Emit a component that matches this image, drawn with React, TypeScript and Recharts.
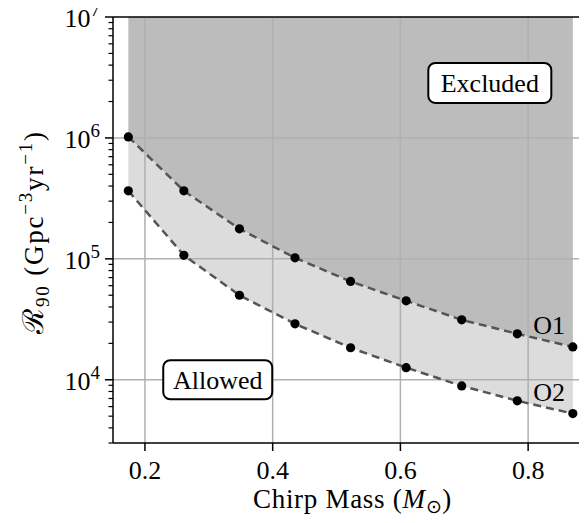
import React from "react";
import {
  ComposedChart,
  Area,
  Line,
  XAxis,
  YAxis,
  ReferenceLine,
  ReferenceDot,
} from "recharts";

const chirpMass = [0.174, 0.261, 0.348, 0.435, 0.522, 0.609, 0.696, 0.783, 0.87];
const o1Rate = [1.02e6, 3.65e5, 1.77e5, 1.02e5, 6.5e4, 4.5e4, 3.13e4, 2.4e4, 1.87e4];
const o2Rate = [3.65e5, 1.07e5, 5.0e4, 2.9e4, 1.84e4, 1.26e4, 8.9e3, 6.7e3, 5.25e3];
const rateTop = 1e7;

const xTicks = [0.2, 0.4, 0.6, 0.8];
const yMajorTicks = [1e4, 1e5, 1e6, 1e7];
const yTicks = [
  3e3, 4e3, 5e3, 6e3, 7e3, 8e3, 9e3,
  1e4, 2e4, 3e4, 4e4, 5e4, 6e4, 7e4, 8e4, 9e4,
  1e5, 2e5, 3e5, 4e5, 5e5, 6e5, 7e5, 8e5, 9e5,
  1e6, 2e6, 3e6, 4e6, 5e6, 6e6, 7e6, 8e6, 9e6,
  1e7,
];
const yExponents: Record<number, string> = { 10000: "4", 100000: "5", 1000000: "6", 10000000: "7" };

const data = chirpMass.map((m, i) => ({
  m,
  o1: o1Rate[i],
  o2: o2Rate[i],
  excl: [o1Rate[i], rateTop],
  band: [o2Rate[i], o1Rate[i]],
}));

const FONT = "'Liberation Serif', 'Times New Roman', serif";
const FS = 26;

const XTick = (props: any) => {
  const { x, y, payload } = props;
  return (
    <g>
      <line x1={x} x2={x} y1={y} y2={y + 8} stroke="#000" strokeWidth={1.5} />
      <text x={x} y={y + 36} textAnchor="middle" fontFamily={FONT} fontSize={FS} fill="#000">
        {payload.value.toFixed(1)}
      </text>
    </g>
  );
};

const YTick = (props: any) => {
  const { x, y, payload } = props;
  const v = payload.value;
  const isMajor = yMajorTicks.indexOf(v) >= 0;
  const len = isMajor ? 8 : 4.5;
  return (
    <g>
      <line x1={x - len} x2={x} y1={y} y2={y} stroke="#000" strokeWidth={isMajor ? 1.5 : 1.2} />
      {isMajor && (
        <text x={x - 13} y={y + 10} textAnchor="end" fontFamily={FONT} fontSize={FS} fill="#000">
          <tspan>10</tspan>
          <tspan dy={-11} fontSize={19}>{yExponents[v]}</tspan>
        </text>
      )}
    </g>
  );
};

const Dot = (props: any) => {
  const { cx, cy } = props;
  if (cx == null || cy == null) return null;
  return <circle cx={cx} cy={cy} r={4.6} fill="#000" />;
};

const boxLabel = (text: string, w: number, h: number) => (props: any) => {
  const { cx, cy } = props;
  return (
    <g>
      <rect x={cx - w / 2} y={cy - h / 2} width={w} height={h} rx={7} ry={7} fill="#fff" stroke="#000" strokeWidth={2} />
      <text x={cx} y={cy + 9} textAnchor="middle" fontFamily={FONT} fontSize={FS} fill="#000">
        {text}
      </text>
    </g>
  );
};

const plainLabel = (text: string) => (props: any) => {
  const { cx, cy } = props;
  return (
    <text x={cx} y={cy + 9} textAnchor="middle" fontFamily={FONT} fontSize={FS} fill="#000">
      {text}
    </text>
  );
};

const XLabel = (props: any) => {
  const vb = props.viewBox || {};
  const cx = vb.x + vb.width / 2;
  return (
    <text
      x={cx}
      y={vb.y + 65}
      textAnchor="middle"
      fontFamily={FONT}
      fontSize={27}
      letterSpacing={0.7}
      fill="#000"
    >
      <tspan>Chirp Mass (</tspan>
      <tspan fontStyle="italic">M</tspan>
      <tspan dy={5} fontSize={19}>⊙</tspan>
      <tspan dy={-5}>)</tspan>
    </text>
  );
};

const YLabel = (props: any) => {
  const vb = props.viewBox || {};
  const x = vb.x + 43;
  const y = vb.y + vb.height / 2 + 2;
  return (
    <text
      x={x}
      y={y}
      transform={`rotate(-90, ${x}, ${y})`}
      textAnchor="middle"
      fontFamily={FONT}
      fontSize={27}
      letterSpacing={1.8}
      fill="#000"
    >
      <tspan fontSize={29}>ℛ</tspan>
      <tspan dy={6} fontSize={19}>90</tspan>
      <tspan dy={-6}> (Gpc</tspan>
      <tspan dy={-11} fontSize={19}>−3</tspan>
      <tspan dy={11}>yr</tspan>
      <tspan dy={-11} fontSize={19}>−1</tspan>
      <tspan dy={11}>)</tspan>
    </text>
  );
};

export default function App() {
  return (
    <div style={{ margin: "-8px 0 0 -8px", width: 587, height: 523, overflow: "hidden" }}>
      <ComposedChart
        width={608}
        height={523}
        data={data}
        margin={{ top: 17, right: 16, left: 0, bottom: 0 }}
      >
        <XAxis
          dataKey="m"
          type="number"
          domain={[0.15, 0.9]}
          ticks={xTicks}
          allowDataOverflow
          height={80}
          tickLine={false}
          tickSize={0}
          tickMargin={0}
          axisLine={{ stroke: "#000", strokeWidth: 1.5 }}
          tick={<XTick />}
          label={<XLabel />}
        />
        <YAxis
          type="number"
          scale="log"
          domain={[3000, 1e7]}
          ticks={yTicks}
          allowDataOverflow
          width={113}
          interval={0}
          tickLine={false}
          tickSize={0}
          tickMargin={0}
          axisLine={{ stroke: "#000", strokeWidth: 1.5 }}
          tick={<YTick />}
          label={<YLabel />}
        />
        <Area
          type="linear"
          dataKey="excl"
          fill="#bcbcbc"
          fillOpacity={1}
          stroke="none"
          isAnimationActive={false}
          activeDot={false}
        />
        <Area
          type="linear"
          dataKey="band"
          fill="#dcdcdc"
          fillOpacity={1}
          stroke="none"
          isAnimationActive={false}
          activeDot={false}
        />
        {xTicks.map((t) => (
          <ReferenceLine key={`gx${t}`} x={t} stroke="#b0b0b0" strokeWidth={1.5} />
        ))}
        {[1e4, 1e5, 1e6].map((t) => (
          <ReferenceLine key={`gy${t}`} y={t} stroke="#b0b0b0" strokeWidth={1.5} />
        ))}
        <ReferenceLine y={1e7} stroke="#000" strokeWidth={1.5} />
        <Line
          type="linear"
          dataKey="o1"
          stroke="#555"
          strokeWidth={2.5}
          strokeDasharray="8 5"
          dot={<Dot />}
          activeDot={false}
          isAnimationActive={false}
        />
        <Line
          type="linear"
          dataKey="o2"
          stroke="#555"
          strokeWidth={2.5}
          strokeDasharray="8 5"
          dot={<Dot />}
          activeDot={false}
          isAnimationActive={false}
        />
        <ReferenceDot x={0.74} y={2.85e6} shape={boxLabel("Excluded", 123, 40)} />
        <ReferenceDot x={0.314} y={1.0e4} shape={boxLabel("Allowed", 109, 39)} />
        <ReferenceDot x={0.833} y={2.85e4} shape={plainLabel("O1")} />
        <ReferenceDot x={0.833} y={7.9e3} shape={plainLabel("O2")} />
      </ComposedChart>
    </div>
  );
}
